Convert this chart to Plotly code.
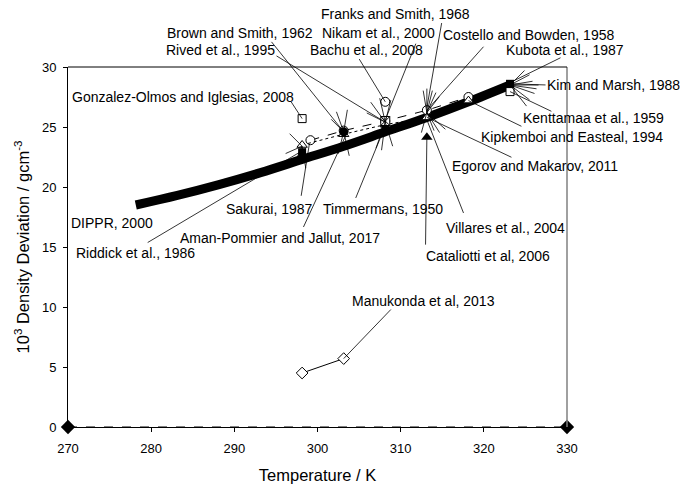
import plotly.graph_objects as go

# ---- data (temperature / K, 10^3 density deviation / g cm^-3) ----
dippr_T = [278.15, 283.15, 288.15, 293.15, 298.15, 303.15, 308.15, 313.15, 318.15, 323.15]
dippr_v = [18.5, 19.3, 20.2, 21.2, 22.3, 23.4, 24.6, 25.8, 27.1, 28.5]

zero_T = [270, 330]
zero_v = [0, 0]

manukonda_T = [298.15, 303.15]
manukonda_v = [4.5, 5.7]

circ_T = [299.15, 303.15, 308.15, 313.15, 318.15]
circ_v = [23.9, 24.7, 25.5, 26.4, 27.5]

tri_T = [298.15, 303.15, 308.15, 313.15, 318.15]
tri_v = [23.5, 24.4, 25.2, 25.8, 27.2]

brown_T = [303.15]
brown_v = [24.6]

sakurai_T = [298.15, 308.15]
sakurai_v = [22.9, 24.9]

nikam_T = [308.15]
nikam_v = [25.5]

gonzalez_T = [298.15]
gonzalez_v = [25.7]

kenttamaa_T = [323.15]
kenttamaa_v = [27.95]

kim_T = [323.15]
kim_v = [28.6]

franks_T = [308.15]
franks_v = [27.1]

cataliotti_T = [313.15]
cataliotti_v = [24.15]

X_RANGE = [270, 330]
Y_RANGE = [0, 30]

# label text, label centre (T, v), leader start (T, v) or None, leader end (T, v)
labels = [
    ("Franks and Smith, 1968", 309.38, 34.42, (314.97, 33.83), (313.15, 26.6)),
    ("Nikam et al., 2000", 307.39, 32.83, (311.92, 32.11), (308.15, 25.6)),
    ("Bachu et al., 2008", 305.95, 31.42, (304.87, 30.83), (308.15, 27.1)),
    ("Brown and Smith, 1962", 290.74, 32.83, (294.29, 32.25), (303.15, 24.6)),
    ("Rived et al., 1995", 288.34, 31.42, (294.89, 31.0), (308.15, 25.4)),
    ("Gonzalez-Olmos and Iglesias, 2008", 283.77, 27.5, (296.69, 27.25), (298.15, 25.7)),
    ("Costello and Bowden, 1958", 325.43, 32.67, (320.14, 31.83), (313.15, 26.4)),
    ("Kubota et al., 1987", 329.70, 31.42, (329.4, 30.83), (323.15, 28.7)),
    ("Kim and Marsh, 1988", 335.6, 28.5, (327.6, 28.5), (323.15, 28.6)),
    ("Kenttamaa et al., 1959", 333.24, 25.75, (328.3, 26.25), (323.15, 27.95)),
    ("Kipkemboi and Easteal, 1994", 330.66, 24.17, (324.7, 25.0), (318.15, 27.2)),
    ("Egorov and Makarov, 2011", 326.15, 21.75, (323.5, 22.42), (313.15, 25.8)),
    ("Villares et al., 2004", 322.66, 16.58, (317.65, 17.67), (313.15, 25.6)),
    ("Cataliotti et al, 2006", 320.56, 14.25, (312.99, 15.03), (313.15, 24.15)),
    ("Timmermans, 1950", 307.87, 18.17, (304.5, 18.92), (308.15, 25.1)),
    ("Sakurai, 1987", 294.17, 18.17, (298.0, 19.1), (299.0, 23.5)),
    ("Aman-Pommier and Jallut, 2017", 295.53, 15.77, (298.2, 16.5), (303.6, 24.6)),
    ("Riddick et al., 1986", 278.06, 14.47, (279.4, 15.3), (298.6, 23.2)),
    ("DIPPR, 2000", 275.25, 16.97, None, None),
    ("Manukonda et al, 2013", 312.72, 10.52, (309.0, 9.92), (303.15, 5.7)),
]

# short radiating leader stubs around crowded clusters (anchor T, v, pixel offsets)
stubs = [
    (323.15, 28.5, [(21, -11), (24, -4), (28, 4), (26, 9), (21, 16), (18, 23), (16, -16), (30, 0)]),
    (313.15, 26.2, [(0, -26), (6, -24), (10, -22), (14, -18), (-4, -24), (8, 20), (14, 22), (20, 18), (-6, 22)]),
    (308.15, 25.4, [(-16, -22), (-6, -26), (6, -24), (-4, 30), (-10, 28), (8, 26), (-20, -10)]),
    (303.15, 24.6, [(-8, -22), (4, -24), (-6, 24), (6, 26), (-14, -14)]),
    (298.15, 23.4, [(-10, 22), (4, 24), (-14, -14), (-18, 8)]),
]

FONT = "Arial, 'Liberation Sans', sans-serif"


def to_paper(t, v):
    """Map a (T, v) pair to paper fractions of the plot area."""
    return ((t - X_RANGE[0]) / (X_RANGE[1] - X_RANGE[0]),
            (v - Y_RANGE[0]) / (Y_RANGE[1] - Y_RANGE[0]))


fig = go.Figure()

fig.add_trace(go.Scatter(x=zero_T, y=zero_v, mode="lines+markers",
                         line=dict(color="black", width=1, dash="dash"),
                         marker=dict(symbol="diamond", size=11, color="black"),
                         cliponaxis=False, showlegend=False))

fig.add_trace(go.Scatter(x=manukonda_T, y=manukonda_v, mode="lines+markers",
                         line=dict(color="black", width=1),
                         marker=dict(symbol="diamond", size=9, color="white",
                                     line=dict(color="black", width=1)),
                         showlegend=False))

fig.add_trace(go.Scatter(x=dippr_T, y=dippr_v, mode="lines",
                         line=dict(color="black", width=9, shape="spline"),
                         showlegend=False))

fig.add_trace(go.Scatter(x=circ_T, y=circ_v, mode="lines+markers",
                         line=dict(color="black", width=1, dash="dash"),
                         marker=dict(symbol="circle", size=9, color="white",
                                     line=dict(color="black", width=1)),
                         showlegend=False))

fig.add_trace(go.Scatter(x=tri_T, y=tri_v, mode="lines+markers",
                         line=dict(color="black", width=1, dash="dot"),
                         marker=dict(symbol="triangle-up", size=9, color="white",
                                     line=dict(color="black", width=1)),
                         showlegend=False))

fig.add_trace(go.Scatter(x=brown_T, y=brown_v, mode="markers",
                         marker=dict(symbol="circle", size=9, color="black"),
                         showlegend=False))

fig.add_trace(go.Scatter(x=sakurai_T, y=sakurai_v, mode="markers",
                         marker=dict(symbol="square", size=8, color="black"),
                         showlegend=False))

fig.add_trace(go.Scatter(x=nikam_T, y=nikam_v, mode="markers",
                         marker=dict(symbol="square-x", size=9, color="white",
                                     line=dict(color="black", width=1)),
                         showlegend=False))

for tx, vy in ((gonzalez_T, gonzalez_v), (kenttamaa_T, kenttamaa_v)):
    fig.add_trace(go.Scatter(x=tx, y=vy, mode="markers",
                             marker=dict(symbol="square", size=8, color="white",
                                         line=dict(color="black", width=1)),
                             showlegend=False))

fig.add_trace(go.Scatter(x=kim_T, y=kim_v, mode="markers",
                         marker=dict(symbol="square", size=8, color="black"),
                         showlegend=False))

fig.add_trace(go.Scatter(x=franks_T, y=franks_v, mode="markers",
                         marker=dict(symbol="circle", size=9, color="white",
                                     line=dict(color="black", width=1)),
                         showlegend=False))

fig.add_trace(go.Scatter(x=cataliotti_T, y=cataliotti_v, mode="markers",
                         marker=dict(symbol="triangle-up", size=10, color="black"),
                         showlegend=False))

annotations = []
for text, lx, ly, start, end in labels:
    px, py = to_paper(lx, ly)
    annotations.append(dict(x=px, y=py, xref="paper", yref="paper", text=text,
                            xanchor="center", yanchor="middle",
                            showarrow=False, font=dict(family=FONT, size=14, color="black")))
    if start is not None:
        annotations.append(dict(x=end[0], y=end[1], xref="x", yref="y",
                                ax=start[0], ay=start[1], axref="x", ayref="y",
                                text=" ", font=dict(size=1), showarrow=True,
                                arrowhead=0, arrowwidth=0.8, arrowcolor="black",
                                standoff=0, startstandoff=0))

for cx, cy, offs in stubs:
    for dx, dy in offs:
        annotations.append(dict(x=cx, y=cy, xref="x", yref="y", ax=dx, ay=dy,
                                text=" ", font=dict(size=1), showarrow=True,
                                arrowhead=0, arrowwidth=0.8, arrowcolor="black",
                                standoff=0, startstandoff=0))

fig.update_layout(
    width=683, height=488,
    margin=dict(l=68, r=116, t=67, b=61),
    paper_bgcolor="white", plot_bgcolor="white",
    font=dict(family=FONT, size=13, color="black"),
    annotations=annotations,
    shapes=[dict(type="line", xref="paper", yref="paper", x0=1, x1=1, y0=0, y1=1,
                 line=dict(color="#808080", width=1.5)),
            dict(type="line", xref="paper", yref="paper", x0=0, x1=1, y0=1, y1=1,
                 line=dict(color="black", width=1))],
    xaxis=dict(range=X_RANGE, dtick=10, tick0=270, showgrid=False, zeroline=False,
               showline=True, linecolor="black", linewidth=1, mirror=False,
               ticks="outside", ticklen=4, tickcolor="black", ticklabelstandoff=5,
               automargin=False,
               title=dict(text="Temperature / K", font=dict(size=16.5), standoff=14),
               tickfont=dict(size=13)),
    yaxis=dict(range=Y_RANGE, dtick=5, showgrid=False, zeroline=False,
               showline=True, linecolor="black", linewidth=1,
               ticks="outside", ticklen=4, tickcolor="black", ticklabelstandoff=4,
               automargin=False,
               title=dict(text="10<sup>3</sup> Density Deviation / gcm<sup>-3</sup>",
                          font=dict(size=16.5), standoff=8),
               tickfont=dict(size=13)),
)

fig.write_html("out.html")
